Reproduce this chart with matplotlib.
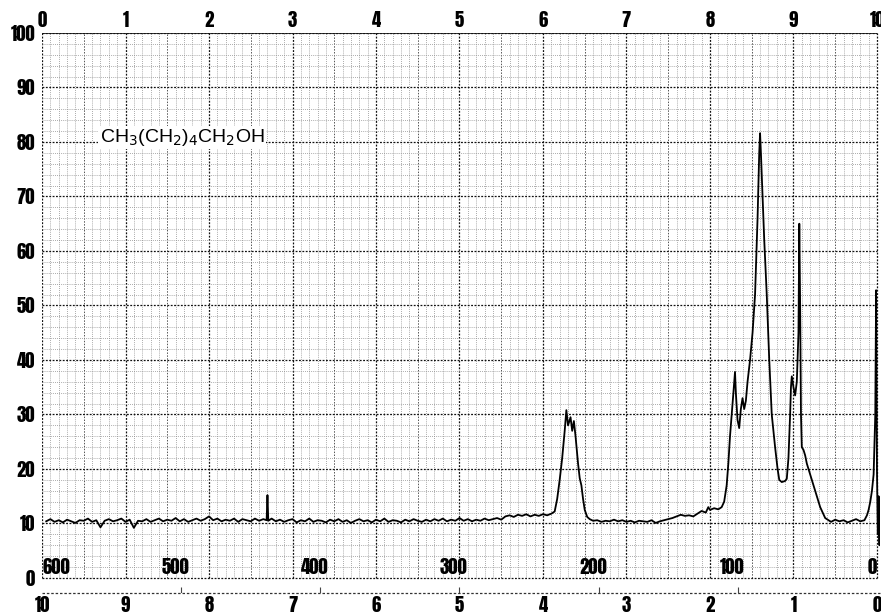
import numpy as np
import matplotlib
matplotlib.use("Agg")
import matplotlib.pyplot as plt

# chemical shift (ppm) and signal height (chart %)
shift_ppm = [
    9.95, 9.90, 9.85, 9.80, 9.75, 9.70, 9.65, 9.60, 9.55, 9.50,
    9.45, 9.40, 9.35, 9.30, 9.25, 9.20, 9.15, 9.10, 9.05, 9.00,
    8.95, 8.90, 8.85, 8.80, 8.75, 8.70, 8.65, 8.60, 8.55, 8.50,
    8.45, 8.40, 8.35, 8.30, 8.25, 8.20, 8.15, 8.10, 8.05, 8.00,
    7.95, 7.90, 7.85, 7.80, 7.75, 7.70, 7.65, 7.60, 7.55, 7.50,
    7.45, 7.40, 7.35, 7.31, 7.30, 7.29, 7.25, 7.20, 7.15, 7.10,
    7.05, 7.00, 6.95, 6.90, 6.85, 6.80, 6.75, 6.70, 6.65, 6.60,
    6.55, 6.50, 6.45, 6.40, 6.35, 6.30, 6.25, 6.20, 6.15, 6.10,
    6.05, 6.00, 5.95, 5.90, 5.85, 5.80, 5.75, 5.70, 5.65, 5.60,
    5.55, 5.50, 5.45, 5.40, 5.35, 5.30, 5.25, 5.20, 5.15, 5.10,
    5.05, 5.00, 4.95, 4.90, 4.85, 4.80, 4.75, 4.70, 4.65, 4.60,
    4.55, 4.50, 4.45, 4.40, 4.35, 4.30, 4.25, 4.20, 4.15, 4.10,
    4.05, 4.00, 3.95, 3.90, 3.86, 3.83, 3.80, 3.77, 3.74, 3.72,
    3.70, 3.67, 3.65, 3.63, 3.61, 3.58, 3.56, 3.54, 3.52, 3.50,
    3.47, 3.44, 3.40, 3.35, 3.30, 3.25, 3.20, 3.15, 3.10, 3.05,
    3.00, 2.95, 2.90, 2.85, 2.80, 2.75, 2.70, 2.65, 2.60, 2.55,
    2.50, 2.45, 2.40, 2.35, 2.30, 2.25, 2.20, 2.15, 2.10, 2.05,
    2.02, 2.00, 1.95, 1.90, 1.86, 1.83, 1.80, 1.78, 1.76, 1.74,
    1.72, 1.70, 1.69, 1.67, 1.65, 1.63, 1.61, 1.59, 1.57, 1.55,
    1.52, 1.49, 1.46, 1.43, 1.41, 1.40, 1.39, 1.37, 1.35, 1.32,
    1.29, 1.26, 1.22, 1.19, 1.17, 1.14, 1.10, 1.08, 1.06, 1.04,
    1.03, 1.02, 1.00, 0.98, 0.96, 0.94, 0.93, 0.92, 0.91, 0.90,
    0.88, 0.86, 0.84, 0.80, 0.77, 0.74, 0.71, 0.68, 0.65, 0.62,
    0.58, 0.55, 0.50, 0.45, 0.40, 0.35, 0.30, 0.25, 0.20, 0.15,
    0.12, 0.10, 0.08, 0.06, 0.04, 0.02, 0.01, 0.00, -0.01, -0.02,
    -0.03, -0.035,
]
signal = [
    10.4, 10.8, 10.3, 10.6, 10.2, 10.7, 10.4, 10.1, 10.6, 10.5,
    10.9, 10.3, 10.6, 9.3, 10.5, 10.8, 10.4, 10.6, 10.9, 10.3,
    10.7, 9.2, 10.5, 10.4, 10.8, 10.3, 10.6, 10.9, 10.4, 10.7,
    10.5, 11.0, 10.4, 10.8, 10.3, 10.6, 10.9, 10.5, 10.8, 11.3,
    10.6, 10.9, 10.4, 10.7, 10.5, 10.9, 10.3, 10.8, 10.6, 10.4,
    10.9, 10.5, 10.8, 10.6, 15.2, 10.5, 10.9, 10.4, 10.7, 10.3,
    10.6, 10.8, 10.2, 10.6, 10.4, 10.9, 10.3, 10.6, 10.5, 10.2,
    10.7, 10.4, 10.8, 10.3, 10.6, 10.1, 10.5, 10.8, 10.4, 10.6,
    10.2, 10.7, 10.4, 10.9, 10.3, 10.6, 10.5, 10.2, 10.7, 10.4,
    10.8, 10.5, 10.3, 10.7, 10.4, 10.8, 10.5, 10.9, 10.4, 10.7,
    10.5, 11.0, 10.5, 10.8, 10.4, 10.7, 10.5, 10.9, 10.6, 10.8,
    11.0, 10.7, 11.3, 11.5, 11.2, 11.6, 11.4, 11.7, 11.3, 11.6,
    11.4, 11.7, 11.5, 11.8, 12.2, 14.5, 18.0, 22.0, 27.0, 30.8,
    28.0, 29.5, 27.0, 28.8, 26.0, 21.0, 18.3, 17.0, 14.5, 12.5,
    11.2, 10.8, 10.5, 10.6, 10.3, 10.5, 10.4, 10.7, 10.4, 10.6,
    10.3, 10.5, 10.2, 10.5, 10.4, 10.3, 10.6, 10.1, 10.4, 10.6,
    10.8, 11.0, 11.3, 11.6, 11.4, 11.5, 11.3, 11.8, 12.3, 12.0,
    13.0, 12.5, 12.8, 12.6, 13.0, 14.0, 17.0, 21.0, 26.0, 30.0,
    34.0, 37.8, 34.0, 29.0, 27.5, 31.0, 33.0, 31.0, 32.5, 36.0,
    40.0, 45.0, 52.0, 66.0, 78.0, 81.6, 78.0, 70.0, 62.0, 52.0,
    40.0, 30.0, 24.0, 20.0, 18.0, 17.6, 17.8, 18.2, 22.0, 30.0,
    35.0, 37.0, 35.0, 33.5, 36.0, 45.0, 65.0, 50.0, 30.0, 24.0,
    23.5, 22.5, 21.0, 19.0, 17.5, 16.0, 14.5, 13.0, 12.0, 11.0,
    10.6, 10.3, 10.7, 10.4, 10.6, 10.2, 10.5, 10.8, 10.4, 10.6,
    11.5, 12.5, 14.0, 16.0, 19.0, 30.0, 52.8, 20.0, 8.0, 15.0,
    6.0, 13.0,
]

# top scale (0..10), bottom scale (ppm 10..0), Hz labels of a 60 MHz sweep
top_ticks = list(range(0, 11))
ppm_ticks = list(range(0, 11))
hz_labels = ["600", "500", "400", "300", "200", "100", "0"]
hz_ppm = [10.0, 8.333, 6.667, 5.0, 3.333, 1.667, 0.0]
y_ticks = list(range(0, 101, 10))

tick_font = dict(family=["Anton", "DejaVu Sans"], size=13.5)

fig = plt.figure(figsize=(8.81, 6.15), dpi=100)
ax = fig.add_axes([0.0477, 0.0358, 0.9515, 0.9106])
ax.set_xlim(10, -0.04)
ax.set_ylim(-2.75, 100)

# chart paper grid
for v in np.arange(0, 10.001, 0.1):
    v = round(v, 1)
    if v % 1 == 0:
        ax.vlines(v, 0, 100, color="#111111", lw=0.9, ls=(0, (1.5, 1.2)), zorder=1)
    elif abs(v % 1 - 0.5) < 1e-6:
        ax.vlines(v, 0, 100, color="#555555", lw=0.7, ls=(0, (1.5, 1.5)), zorder=1)
    else:
        ax.vlines(v, 0, 100, color="#8f8f8f", lw=0.6, ls=(0, (1, 1.5)), zorder=1)
for h in range(0, 101, 2):
    if h % 10 == 0:
        ax.hlines(h, 10, 0, color="#111111", lw=0.9, ls=(0, (1.5, 1.2)), zorder=1)
    else:
        ax.hlines(h, 10, 0, color="#8f8f8f", lw=0.6, ls=(0, (1, 1.5)), zorder=1)
ax.hlines(100, 10, 0, color="#111111", lw=1.2, zorder=1)
ax.hlines(-2.75, 10, -0.04, color="#333333", lw=0.9, ls=(0, (2, 1.5)), clip_on=False)
ax.vlines(hz_ppm[1:-1], -2.75, -1.7, color="#444444", lw=0.8)

for sp in ax.spines.values():
    sp.set_visible(False)

ax.plot(shift_ppm, signal, color="black", lw=1.3, zorder=3)

for lab, p in zip(hz_labels, hz_ppm):
    ha = "left" if p == 10.0 else ("right" if p == 0.0 else "center")
    ax.text(p + (0.07 if ha == "center" else 0), 0.4, lab, ha=ha, va="bottom",
            zorder=4, **tick_font)

ax.text(9.31, 80.8, r"CH$_3$(CH$_2$)$_4$CH$_2$OH", ha="left", va="center",
        family="Liberation Sans", fontsize=14, zorder=4,
        bbox=dict(facecolor="white", edgecolor="none", pad=1))

ax.set_xticks(ppm_ticks)
ax.set_xticklabels([str(t) for t in ppm_ticks])
ax.set_yticks(y_ticks)
ax.set_yticklabels([str(t) for t in y_ticks])
ax.tick_params(axis="x", length=0, pad=2)
ax.tick_params(axis="y", length=0, pad=5)
for lab in ax.get_xticklabels() + ax.get_yticklabels():
    lab.set(**tick_font)

top = ax.secondary_xaxis("top", functions=(lambda x: 10 - x, lambda x: 10 - x))
top.set_xticks(top_ticks)
top.set_xticklabels([str(t) for t in top_ticks])
top.tick_params(length=0, pad=3)
top.spines["top"].set_visible(False)
for lab in top.get_xticklabels():
    lab.set(**tick_font)

fig.savefig("out.png", dpi=100, facecolor="white")
